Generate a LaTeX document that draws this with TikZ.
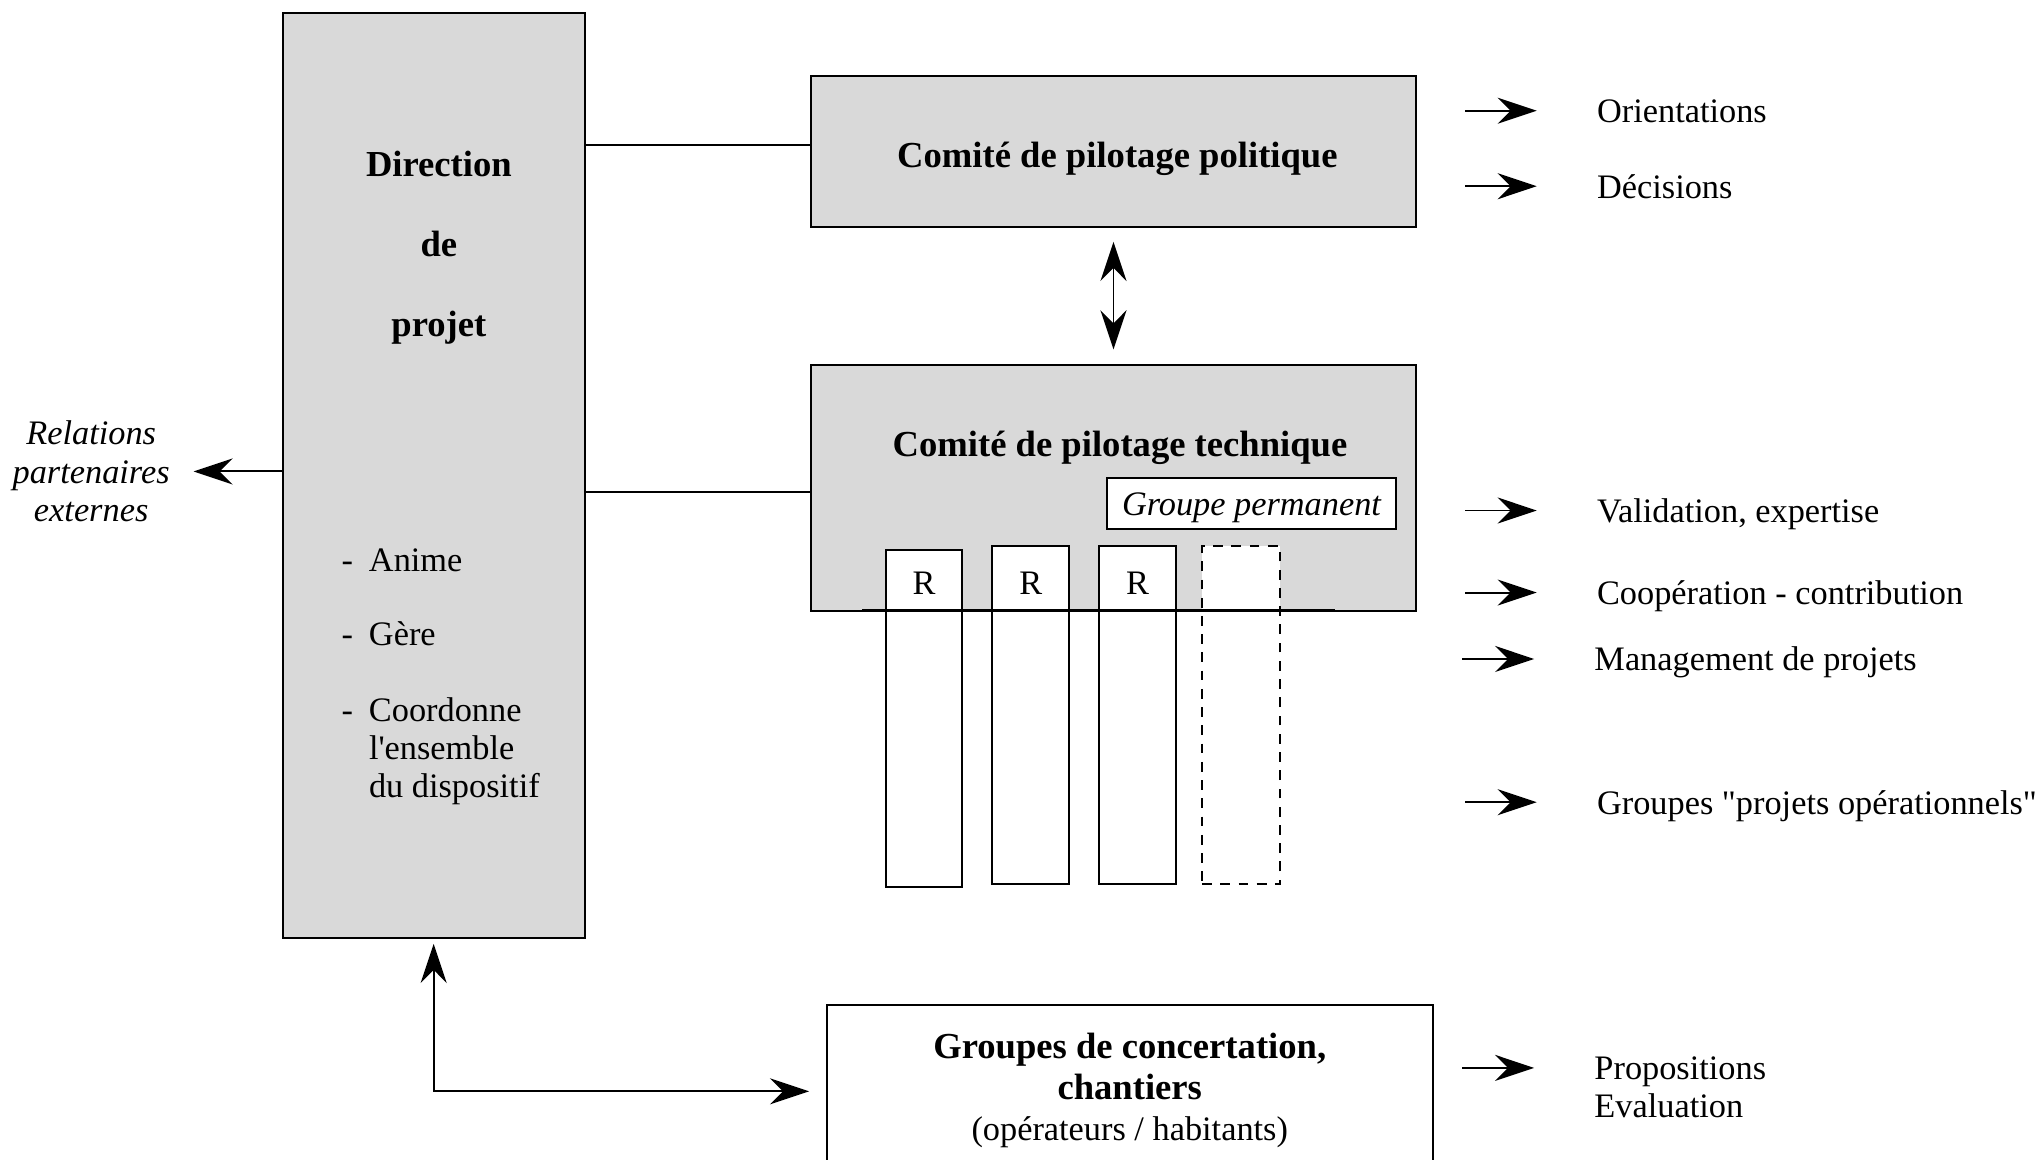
\documentclass[tikz,border=0pt]{standalone}
\usepackage{fontspec}
\setmainfont{Liberation Serif}
\usepackage{tikz}
\usetikzlibrary{positioning}
\usetikzlibrary{arrows.meta}

\definecolor{boxgray}{HTML}{D9D9D9}
\newcommand\straightquote{\XeTeXglyph\XeTeXcharglyph"22\relax}

\tikzset{
  graybox/.style={draw, fill=boxgray, line width=0.85pt, inner sep=0pt},
  whitebox/.style={draw, fill=white, line width=0.85pt, inner sep=0pt},
  dashbox/.style={whitebox, dash pattern=on 1.5mm off 1.3mm},
  ttl/.style={font=\fontsize{16}{35}\selectfont\bfseries, align=center},
  txt/.style={font=\fontsize{15}{16.5}\selectfont},
  itxt/.style={font=\fontsize{15}{16.8}\selectfont\itshape, align=center},
  sidetxt/.style={txt, anchor=west, inner xsep=0pt, text height=12.5pt, text depth=2pt},
  arr/.style={line width=0.85pt, -{Stealth[length=6mm, width=4mm, inset=2mm]}},
  dblarr/.style={line width=0.85pt, {Stealth[length=6mm, width=4mm, inset=2mm]}-{Stealth[length=6mm, width=4mm, inset=2mm]}},
}

\begin{document}
\begin{tikzpicture}[x=0.2mm, y=-0.2mm]
\useasboundingbox (0,0) rectangle (1568,890);

% Direction de projet
\node[graybox, minimum width=46.4mm, minimum height=142mm] (dir) at (333,365) {};
\node[ttl] (dirttl) at (337,190) {Direction\\de\\projet};
\node[txt, anchor=west, inner xsep=0pt] (anime) at (262,430) {\makebox[4.2mm][l]{-}Anime};
\node[txt, anchor=west, inner xsep=0pt] (gere) at (262,487) {\makebox[4.2mm][l]{-}Gère};
\node[txt, anchor=west, inner xsep=0pt, align=left] (coord) at (262,577)
  {\makebox[4.2mm][l]{-}Coordonne\\\hspace*{4.2mm}l\textquotesingle ensemble\\\hspace*{4.2mm}du dispositif};

\node[itxt, inner xsep=3.6mm] (rel) at (70,362) {Relations\\partenaires\\externes};
\draw[arr] (dir.west |- rel) -- (rel.east);

% Comites
\node[graybox, minimum width=92.8mm, minimum height=23.2mm] (pol) at (855,116) {};
\node[ttl] (polttl) at (858,122) {Comité de pilotage politique};
\node[graybox, minimum width=92.8mm, minimum height=37.8mm] (tech) at (855,374.5) {};
\node[ttl] (techttl) at (860,344) {Comité de pilotage technique};
\node[whitebox, txt, minimum width=44.4mm, minimum height=7.8mm, text height=12.5pt, text depth=2pt] (perm) at (961,386.5) {\itshape Groupe permanent};

\coordinate (polw) at ([yshift=1mm]pol.west);
\coordinate (techw) at ([yshift=-0.7mm]tech.west);
\draw[line width=0.85pt] (polw) -- (polw -| dir.east);
\draw[line width=0.85pt] (techw) -- (techw -| dir.east);
\draw[dblarr, shorten <=2.2mm, shorten >=2.2mm] (pol.south) -- (tech.north);

% Groupes projets
\node[whitebox, minimum width=11.8mm, minimum height=51.8mm] (c1) at (709.5,551.5) {};
\node[whitebox, minimum width=11.8mm, minimum height=52mm] (c2) at (791.5,549) {};
\node[whitebox, minimum width=11.8mm, minimum height=52mm] (c3) at (873.5,549) {};
\node[dashbox, minimum width=12mm, minimum height=52mm] (c4) at (953,549) {};

\coordinate (lnl) at (662,469);
\coordinate (lnr) at (1025,469);
\draw[line width=1.3pt] (lnl) -- (lnr);

\foreach \x/\n in {709.5/1, 791.5/2, 873.5/3}
  \node[txt] (r\n) at (\x,448) {R};

% Concertation
\node[whitebox, align=center, minimum width=93mm, minimum height=26mm,
  font=\fontsize{16}{17.9}\selectfont] (conc) at (867.5,837)
  {\bfseries Groupes de concertation,\\\bfseries chantiers\\\fontsize{15}{17.9}\selectfont (opérateurs / habitants)};
\coordinate (concw) at ([yshift=-0.2mm]conc.west);
\draw[dblarr, shorten <=0.8mm, shorten >=2.6mm] (dir.south) |- (concw);

% Right-hand labels
\node[sidetxt] (orient) at (1226,85) {Orientations};
\node[sidetxt] (decis) at (1226,143) {Décisions};
\node[sidetxt] (valid) at (1226,392) {Validation, expertise};
\node[sidetxt] (coop) at (1226,455) {Coopération - contribution};
\node[sidetxt] (manag) at (1224,506) {Management de projets};
\node[sidetxt] (grpop) at (1226,616) {Groupes \straightquote projets opérationnels\straightquote};
\node[sidetxt] (propo) at (1224,820) {Propositions};
\node[sidetxt] (evalu) at (1224,849) {Evaluation};

\foreach \n in {orient,decis,valid,coop,manag,grpop,propo}
  \draw[arr] ([xshift=-20.2mm]\n.west) -- ([xshift=-9.2mm]\n.west);

\end{tikzpicture}
\end{document}
